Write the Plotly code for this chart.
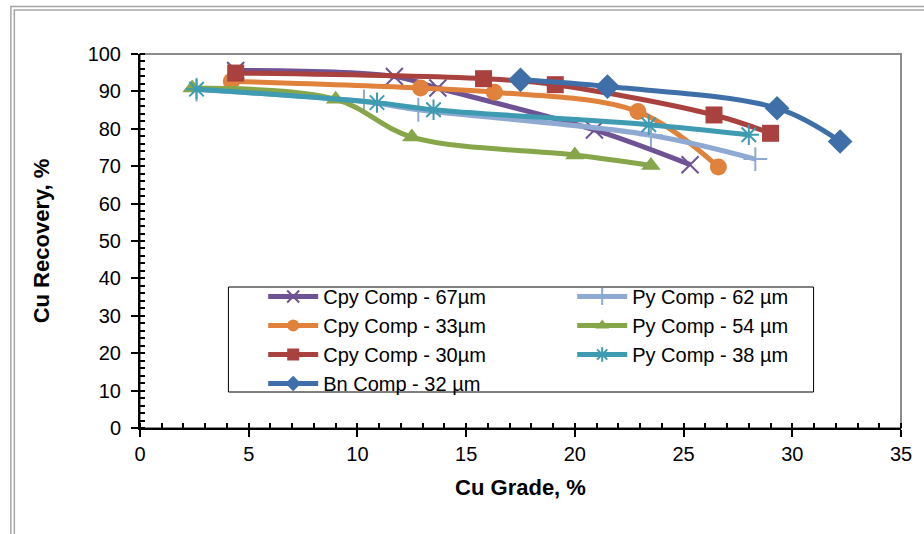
import plotly.graph_objects as go

# Cu grade (%) and Cu recovery (%) for each composite
cpy67_grade = [4.4, 11.7, 13.7, 20.9, 25.3]
cpy67_rec = [95.6, 94.0, 90.9, 79.7, 70.4]

cpy33_grade = [4.2, 12.9, 16.3, 22.9, 26.6]
cpy33_rec = [92.7, 90.9, 89.8, 84.6, 69.8]

cpy30_grade = [4.4, 15.8, 19.1, 26.4, 29.0]
cpy30_rec = [94.9, 93.4, 91.8, 83.7, 78.8]

py62_grade = [2.6, 10.3, 12.8, 23.5, 28.3]
py62_rec = [90.5, 87.3, 85.1, 78.3, 71.9]

py54_grade = [2.4, 9.0, 12.5, 20.0, 23.5]
py54_rec = [90.9, 87.9, 77.8, 73.0, 70.2]

py38_grade = [2.6, 10.9, 13.5, 23.4, 28.0]
py38_rec = [90.6, 87.0, 85.1, 81.1, 78.4]

bn32_grade = [17.5, 21.5, 29.3, 32.2]
bn32_rec = [93.1, 91.3, 85.5, 76.6]

x_ticks = [0, 5, 10, 15, 20, 25, 30, 35]
y_ticks = [0, 10, 20, 30, 40, 50, 60, 70, 80, 90, 100]

FONT = "Arial, Liberation Sans, sans-serif"

# layout geometry (pixels)
W, H = 924, 534
ML, MR, MT, MB = 140, 18, 54, 106
PW, PH = W - ML - MR, H - MT - MB


def px_x(p):
    return (p - ML) / PW


def px_y(p):
    return (H - MB - p) / PH


# (name, x, y, colour, symbol, size, legend rank) in drawing order
series = [
    ("Cpy Comp - 67µm", cpy67_grade, cpy67_rec, "#6E5294", "x-thin", 17, 1),
    ("Cpy Comp - 33µm", cpy33_grade, cpy33_rec, "#E0823C", "circle", 17, 3),
    ("Cpy Comp - 30µm", cpy30_grade, cpy30_rec, "#A9423F", "square", 17, 5),
    ("Py Comp - 62 µm", py62_grade, py62_rec, "#8EA9D2", "cross-thin", 17, 2),
    ("Py Comp - 54 µm", py54_grade, py54_rec, "#87A64A", "triangle-up", 17, 4),
    ("Py Comp - 38 µm", py38_grade, py38_rec, "#3E9BB1", "asterisk", 17, 6),
    ("Bn Comp - 32 µm", bn32_grade, bn32_rec, "#3F6FA9", "diamond", 19, 7),
]

fig = go.Figure()
for name, xs, ys, col, sym, size, rank in series:
    open_sym = sym in ("x-thin", "cross-thin", "asterisk")
    fig.add_trace(go.Scatter(
        x=xs, y=ys, name=name, mode="lines+markers",
        line=dict(color=col, width=5, shape="spline", smoothing=1.0),
        marker=dict(symbol=sym, size=size, color=col,
                    line=dict(color=col, width=2 if open_sym else 0)),
        legendrank=rank,
    ))

axis_common = dict(
    showgrid=False, zeroline=False, showline=True, linecolor="black", linewidth=2,
    ticks="outside", ticklen=7, tickwidth=2, tickcolor="black",
    tickfont=dict(family=FONT, size=20, color="black"),
)

fig.update_xaxes(
    range=[0, 35], tickvals=x_ticks, ticklabelstandoff=0,
    minor=dict(ticks="inside", dtick=1, ticklen=5, tickwidth=2, tickcolor="black"),
    title=dict(text="<b>Cu Grade, %</b>", font=dict(family=FONT, size=22, color="black"),
               standoff=16),
    **axis_common,
)
fig.update_yaxes(
    range=[0, 100], tickvals=y_ticks, ticklabelstandoff=6,
    minor=dict(ticks="inside", dtick=2, ticklen=5, tickwidth=2, tickcolor="black"),
    title=dict(text="<b>Cu Recovery, %</b>", font=dict(family=FONT, size=22, color="black"),
               standoff=32),
    **axis_common,
)

shapes = [
    # plot-area frame (top and right edges in grey)
    dict(type="rect", xref="paper", yref="paper", x0=0, x1=1, y0=0, y1=1,
         line=dict(color="#8C8C8C", width=2), layer="below"),
    # chart-area double border
    dict(type="rect", xref="paper", yref="paper",
         x0=px_x(10), x1=px_x(W + 20), y0=px_y(H + 20), y1=px_y(6.5),
         line=dict(color="#A6A6A6", width=1.5), layer="below"),
    dict(type="rect", xref="paper", yref="paper",
         x0=px_x(13.5), x1=px_x(W + 20), y0=px_y(H + 20), y1=px_y(10),
         line=dict(color="#A6A6A6", width=1.5), layer="below"),
    # legend box
    dict(type="rect", xref="paper", yref="paper",
         x0=px_x(229), x1=px_x(818), y0=px_y(392), y1=px_y(287),
         line=dict(color="black", width=1), fillcolor="white", layer="below"),
]

fig.update_layout(
    width=W, height=H,
    margin=dict(l=ML, r=MR, t=MT, b=MB, pad=0),
    paper_bgcolor="white", plot_bgcolor="white",
    font=dict(family=FONT, color="black"),
    shapes=shapes,
    showlegend=True,
    legend=dict(
        orientation="h", x=px_x(264), y=px_y(277), xanchor="left", yanchor="top",
        bgcolor="rgba(0,0,0,0)", borderwidth=0,
        font=dict(family=FONT, size=20, color="black"),
        itemwidth=50, entrywidth=244, tracegroupgap=0, itemsizing="constant",
    ),
)

fig.write_html("out.html")
